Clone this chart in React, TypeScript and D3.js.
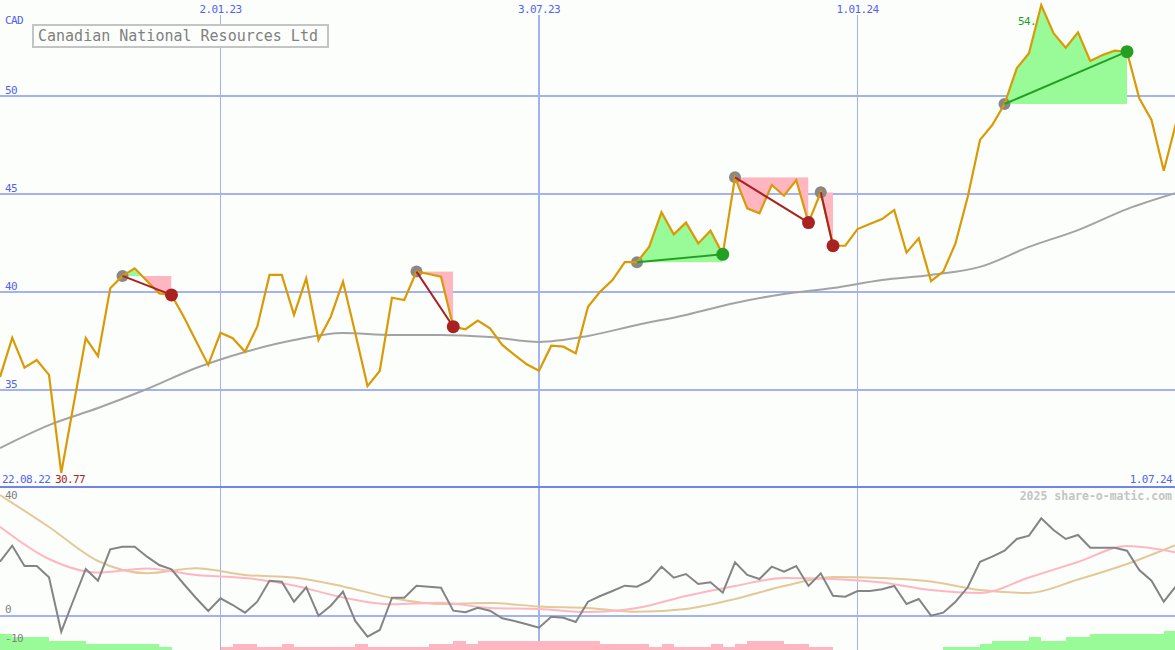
import React, { useEffect } from 'react';
import * as d3 from 'd3';

// Weekly closing prices (CAD), 97 weeks
const price = [35.66, 37.67, 36.14, 36.53, 35.77, 30.77, 34.23, 37.65, 36.73, 40.19,
  40.82, 41.21, 40.56, 39.93, 39.85, 38.74, 37.5, 36.28, 37.92, 37.64,
  36.95, 38.23, 40.87, 40.87, 38.83, 40.70, 37.55, 38.74, 40.53, 37.91,
  35.20, 35.97, 39.71, 39.59, 41.04, 40.92, 40.78, 38.23, 38.10, 38.54,
  38.15, 37.30, 36.79, 36.31, 35.98, 37.26, 37.21, 36.87, 39.25, 40.02,
  40.61, 41.52, 41.52, 42.31, 44.07, 42.94, 43.54, 42.48, 43.13, 41.92,
  45.85, 44.27, 44.02, 45.46, 44.91, 45.71, 43.54, 45.09, 42.36, 42.36,
  43.21, 43.47, 43.72, 44.18, 42.01, 42.74, 40.56, 41.04, 42.48, 44.86,
  47.76, 48.52, 49.59, 51.41, 52.18, 54.64, 53.20, 52.46, 53.25, 51.79,
  52.09, 52.31, 52.26, 49.88, 48.78, 46.19, 48.61];

// Long moving average, sampled every 4 weeks
const maStep = 4;
const movingAvg = [32.04, 33.21, 34.08, 35.05, 36.12, 36.94, 37.55, 37.91, 37.81, 37.81,
  37.70, 37.45, 37.76, 38.32, 38.83, 39.44, 39.90, 40.20, 40.61, 40.87,
  41.28, 42.30, 43.16, 44.23, 45.05];

// Oscillator (lower panel), weekly
const osc = [19.05, 24.67, 17.54, 17.54, 13.58, -5.51, 5.61, 16.49, 12.39, 23.40,
  24.32, 24.32, 20.81, 17.89, 16.39, 11.23, 6.32, 1.75, 6.21, 3.86,
  1.16, 5.02, 12.39, 12.04, 5.02, 10.07, 0.11, 3.61, 8.53, -1.75,
  -7.26, -4.91, 6.42, 6.42, 10.63, 10.28, 9.93, 1.86, 1.30, 2.91,
  1.86, -0.81, -1.75, -2.91, -4.11, -0.25, -0.60, -2.11, 5.02, 7.02,
  8.77, 10.63, 10.28, 12.39, 17.30, 13.44, 14.74, 11.23, 11.82, 8.18,
  18.84, 14.39, 12.98, 17.30, 15.54, 17.54, 10.53, 14.98, 7.12, 6.77,
  8.77, 8.77, 9.37, 10.53, 4.21, 5.96, 0.11, 1.16, 5.02, 10.07,
  19.05, 20.81, 22.91, 27.02, 28.18, 34.28, 30.18, 27.02, 28.42, 23.96,
  23.96, 23.96, 22.91, 16.14, 12.39, 5.02, 10.53];

// Oscillator averages, sampled every 4 weeks
const oscFast = [31.33, 20.0, 15.26, 16.67, 14.39, 13.33, 10.70, 6.49, 4.11, 4.67,
  2.81, 2.46, 1.40, 2.81, 7.02, 10.53, 13.33, 12.98, 11.75, 9.12,
  8.07, 13.51, 18.95, 24.56, 22.28];
const oscSlow = [42.46, 31.23, 19.30, 14.98, 16.74, 14.39, 13.51, 10.35, 6.32, 4.21,
  4.56, 3.33, 2.81, 1.47, 2.46, 5.96, 10.53, 13.68, 13.33, 12.11,
  9.12, 8.07, 12.81, 18.25, 24.91];

// Trend strength bars (positive = green, negative = pink), one per week
const trendBars = [5, 4, 4, 4, 3, 3, 3, 2, 2, 2, 2, 2, 2, 1, 0, 0, 0, 0,
  -1, -2, -2, -1, -1, -2, -1, -1, -1, -1, -1, -2, -1, -1, -1, -1, -1, -2, -2, -3, -2,
  -3, -3, -3, -3, -3, -3, -3, -3, -3, -3, -2, -2, -2, -2, -1, -2, -1, -1, -1, -2, -1, -2,
  -3, -3, -3, -2, -2, -1, -1,
  0, 0, 0, 0, 0, 0, 0, 0, 0,
  1, 1, 1, 2, 3, 3, 3, 4, 3, 3, 4, 4, 5, 5, 5, 5, 5, 5, 6];

// Signals: start week index, end week index
const signals = [
  { s: 10, e: 14 }, { s: 34, e: 37 }, { s: 52, e: 59 },
  { s: 60, e: 66 }, { s: 67, e: 68 }, { s: 82, e: 92 },
];

const xTicks = [{ i: 18, label: '2.01.23', major: false }, { i: 44, label: '3.07.23', major: true }, { i: 70, label: '1.01.24', major: false }];
const yTicks = [35, 40, 45, 50];
const lowTicks = [40, 0, -10];
const title = 'Canadian National Resources Ltd';
const startDate = '22.08.22';
const endDate = '1.07.24';
const minLabel = '30.77';
const maxLabel = '54.64';

const FONT = '"DejaVu Sans Mono", monospace';
const BLUE = '#5462ee';

export default function App() {
  useEffect(() => { document.body.style.margin = '0'; }, []);
  const W = 1175, H = 650;
  const mainBottom = 487;
  const x = d3.scaleLinear().domain([0, 96]).range([0, 1176]);
  const y = d3.scaleLinear().domain([35, 50]).range([390, 96]);
  const yl = d3.scaleLinear().domain([-10, 40]).range([644.5, 502]);
  const barH = d3.scaleLinear().domain([0, 6]).range([0, 18.8]);

  const priceLine = d3.line<number>().x((_, i) => x(i)).y(d => y(d));
  const maLine = d3.line<number>().x((_, i) => x(i * maStep)).y(d => y(d)).curve(d3.curveMonotoneX);
  const oscLine = d3.line<number>().x((_, i) => x(i)).y(d => yl(d));
  const oscAvgLine = d3.line<number>().x((_, i) => x(i * maStep)).y(d => yl(d)).curve(d3.curveMonotoneX);

  return (
    <svg width={W} height={H} style={{ position: 'absolute', left: 0, top: 0, background: '#fcfefc' }}>
      <rect x={0} y={0} width={W} height={H} fill="#fcfefc" />
      <defs>
        {signals.map((sg, k) => {
          const lv = y(price[sg.s]);
          return (
            <React.Fragment key={k}>
              <clipPath id={`up${k}`}><rect x={x(sg.s)} y={0} width={x(sg.e) - x(sg.s)} height={lv} /></clipPath>
              <clipPath id={`dn${k}`}><rect x={x(sg.s)} y={lv} width={x(sg.e) - x(sg.s)} height={mainBottom - lv} /></clipPath>
            </React.Fragment>
          );
        })}
      </defs>

      {/* horizontal grid main */}
      {yTicks.map(t => (
        <g key={t}>
          <line x1={0} x2={W} y1={y(t)} y2={y(t)} stroke="#a4b2f4" strokeWidth={2} shapeRendering="crispEdges" />
          <text x={5} y={y(t) - 2.5} fontFamily={FONT} fontSize={11} letterSpacing={-0.6} fill={BLUE}>{t}</text>
        </g>
      ))}
      {/* lower grid */}
      <line x1={0} x2={W} y1={yl(0)} y2={yl(0)} stroke="#a4b2f4" strokeWidth={2} shapeRendering="crispEdges" />

      {/* vertical grid */}
      {xTicks.map(t => (
        <g key={t.label}>
          <line x1={x(t.i)} x2={x(t.i)} y1={15} y2={H} stroke={t.major ? '#a4b2f4' : '#a8b0e4'} strokeWidth={t.major ? 2 : 1} shapeRendering="crispEdges" />
          <text x={x(t.i)} y={13} textAnchor="middle" fontFamily={FONT} fontSize={11} letterSpacing={-0.6} fill={BLUE}>{t.label}</text>
        </g>
      ))}

      {/* separator */}
      <line x1={0} x2={W} y1={mainBottom} y2={mainBottom} stroke="#7183ec" strokeWidth={2} shapeRendering="crispEdges" />

      {/* max label (below fills) */}
      <text x={1018} y={25} fontFamily={FONT} fontSize={11} letterSpacing={-0.6} fill="#23a023">{maxLabel}</text>

      {/* signal fills */}
      {signals.map((sg, k) => {
        const idx = d3.range(sg.s, sg.e + 1);
        const lv = y(price[sg.s]);
        const area = d3.area<number>().x(i => x(i)).y0(lv).y1(i => y(price[i]));
        const d = area(idx) || '';
        return (
          <g key={k}>
            <path d={d} fill="#98fb98" clipPath={`url(#up${k})`} />
            <path d={d} fill="#ffb6c1" clipPath={`url(#dn${k})`} />
          </g>
        );
      })}

      {/* moving average */}
      <path d={maLine(movingAvg) || ''} fill="none" stroke="#a3a3a3" strokeWidth={2} />

      {/* start dots */}
      {signals.map((sg, k) => (
        <circle key={k} cx={x(sg.s)} cy={y(price[sg.s])} r={6} fill="#888888" />
      ))}

      {/* price */}
      <path d={priceLine(price) || ''} fill="none" stroke="#da9a06" strokeWidth={2.2} strokeLinejoin="miter" />

      {/* signal lines and end dots */}
      {signals.map((sg, k) => {
        const gain = price[sg.e] > price[sg.s];
        const c = gain ? '#23a023' : '#a82222';
        return (
          <g key={k}>
            <line x1={x(sg.s)} y1={y(price[sg.s])} x2={x(sg.e)} y2={y(price[sg.e])} stroke={c} strokeWidth={2} />
            <circle cx={x(sg.e)} cy={y(price[sg.e])} r={6.5} fill={c} />
          </g>
        );
      })}

      {/* labels */}
      <text x={5} y={24} fontFamily={FONT} fontSize={11} letterSpacing={-0.6} fill={BLUE}>CAD</text>
      <rect x={33} y={25} width={295} height={22} fill="#fcfefc" stroke="#c4c4c4" strokeWidth={2} shapeRendering="crispEdges" />
      <text x={38} y={41} fontFamily={FONT} fontSize={15} fill="#808080">{title}</text>
      <text x={2} y={483} fontFamily={FONT} fontSize={11} letterSpacing={-0.6} fill={BLUE}>{startDate}</text>
      <text x={55} y={483} fontFamily={FONT} fontSize={11} letterSpacing={-0.6} fill="#a82222">{minLabel}</text>
      <text x={1172} y={483} textAnchor="end" fontFamily={FONT} fontSize={11} letterSpacing={-0.6} fill={BLUE}>{endDate}</text>
      <text x={1172} y={500} textAnchor="end" fontFamily={FONT} fontSize={11.5} fontWeight="bold" fill="#c4c4c4">2025 share-o-matic.com</text>

      {/* trend bars */}
      {trendBars.map((b, i) => b === 0 ? null : (
        <rect key={i} x={x(i)} y={H - barH(Math.abs(b))} width={x(i + 1) - x(i)} height={barH(Math.abs(b))}
          fill={b > 0 ? '#98fb98' : '#ffb6c1'} shapeRendering="crispEdges" />
      ))}

      {/* lower panel lines */}
      <path d={oscAvgLine(oscSlow) || ''} fill="none" stroke="#e3c898" strokeWidth={2} />
      <path d={oscAvgLine(oscFast) || ''} fill="none" stroke="#ffb6c1" strokeWidth={2} />
      <path d={oscLine(osc) || ''} fill="none" stroke="#848484" strokeWidth={2} />

      {lowTicks.map(t => (
        <text key={t} x={5} y={yl(t) - 3} fontFamily={FONT} fontSize={11} letterSpacing={-0.6} fill="#808080">{t}</text>
      ))}
    </svg>
  );
}
